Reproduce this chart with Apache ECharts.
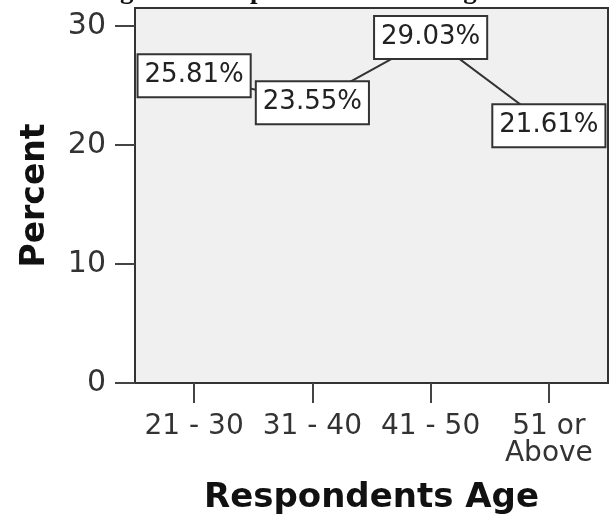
<!DOCTYPE html>
<html><head><meta charset="utf-8">
<script src="https://cdn.jsdelivr.net/npm/echarts@6/dist/echarts.min.js"></script>
<style>html,body{margin:0;padding:0;background:#fff}#c{width:613px;height:515px}</style>
</head><body><div id="c"></div>
<script>
const categories = ['21 - 30', '31 - 40', '41 - 50', '51 or\nAbove'];
const percentValues = [25.81, 23.55, 29.03, 21.61];
const yTickValues = [0, 10, 20, 30];

const chart = echarts.init(document.getElementById('c'), null, {renderer: 'canvas'});
chart.setOption({
  animation: false,
  backgroundColor: '#fff',
  title: {
    text: 'Figure 3: Respondents Percentage',
    left: 91, top: -27,
    textStyle: {fontFamily: 'Liberation Serif', fontWeight: 'bold', fontSize: 27, color: '#111'}
  },
  grid: {
    left: 135, right: 5, top: 8, bottom: 132,
    outerBoundsMode: 'none', containLabel: false,
    show: true, backgroundColor: '#f0f0f0', borderColor: '#333', borderWidth: 2
  },
  xAxis: {
    type: 'category',
    data: categories,
    boundaryGap: true,
    name: 'Respondents Age',
    nameLocation: 'middle',
    nameGap: 98,
    nameTextStyle: {fontFamily: 'DejaVu Sans', fontWeight: 'bold', fontSize: 34, color: '#111'},
    axisLine: {show: true, lineStyle: {color: '#333', width: 2}},
    axisTick: {show: true, alignWithLabel: true, length: 20, lineStyle: {color: '#444', width: 2}},
    axisLabel: {fontFamily: 'DejaVu Sans', fontSize: 28, color: '#333', margin: 30, lineHeight: 27, interval: 0}
  },
  yAxis: {
    type: 'value',
    min: 0, max: 31.5,
    name: 'Percent',
    nameLocation: 'middle',
    nameGap: 83,
    nameTextStyle: {fontFamily: 'DejaVu Sans', fontWeight: 'bold', fontSize: 33, color: '#111'},
    splitLine: {show: false},
    axisLine: {show: true, lineStyle: {color: '#333', width: 2}},
    axisTick: {show: true, length: 20, customValues: yTickValues, lineStyle: {color: '#444', width: 2}},
    axisLabel: {fontFamily: 'DejaVu Sans', fontSize: 30, color: '#333', margin: 29, customValues: yTickValues}
  },
  series: [{
    type: 'line',
    data: percentValues,
    showSymbol: true,
    symbol: 'circle',
    symbolSize: 1,
    itemStyle: {color: '#333'},
    lineStyle: {color: '#333', width: 2},
    label: {
      show: true,
      position: 'inside',
      formatter: p => p.value.toFixed(2) + '%',
      fontFamily: 'DejaVu Sans', fontSize: 26, color: '#222',
      backgroundColor: '#fff', borderColor: '#333', borderWidth: 2,
      padding: [8, 6, 7, 6]
    }
  }]
});
</script></body></html>
